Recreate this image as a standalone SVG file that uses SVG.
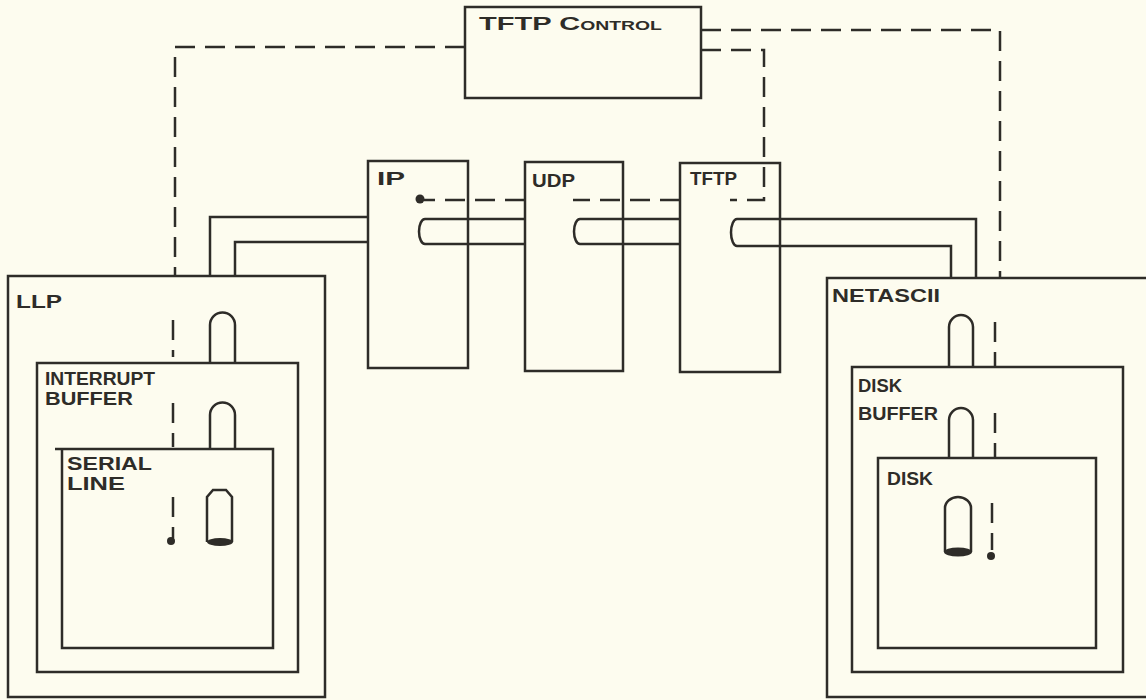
<svg xmlns="http://www.w3.org/2000/svg" width="1146" height="700" viewBox="0 0 1146 700">
<style>
.box{fill:none;stroke:#2e2c28;stroke-width:2.5}
.pipe{fill:none;stroke:#2e2c28;stroke-width:2.5;stroke-linejoin:miter}
.dash{fill:none;stroke:#2e2c28;stroke-width:2.5;stroke-dasharray:20 10}
.dot{fill:#2e2c28}
.lbl{font-family:"Liberation Sans",Arial,sans-serif;font-size:18px;fill:#2e2c28;font-weight:bold}
</style>
<rect width="1146" height="700" fill="#fdfcef"/>
<g id="connectors">
<path class="dash" d="M465,47 H175 V277"/>
<path class="dash" stroke-dasharray="16 8" d="M173,320 V357 M173,403 V447 M173,497 V538"/>
<circle class="dot" cx="171" cy="541" r="4"/>
<path class="dash" d="M701,30 H1000 V277"/>
<path class="dash" stroke-dasharray="16 8" d="M995,322 V367 M995,413 V457 M992,503 V550"/>
<circle class="dot" cx="991" cy="556" r="4"/>
<path class="dash" stroke-dasharray="16 8" d="M701,50 H764 V200 H730"/>
<path class="dash" stroke-dasharray="16 8" d="M680,200 H573"/>
<path class="dash" stroke-dasharray="16 8" d="M525,200 H424"/>
<circle class="dot" cx="420" cy="199" r="4.5"/>
<path class="pipe" d="M210,277 V217 H368 M235,277 V242 H368"/>
<path class="pipe" d="M525,219 H425 A6,12.5 0 0 0 425,244 H525"/>
<path class="pipe" d="M680,219 H580 A6,12.5 0 0 0 580,244 H680"/>
<path class="pipe" d="M976,278 V219 H737 A6,13.5 0 0 0 737,246 H951 V278"/>
</g>
<g id="tftp-control">
<rect class="box" x="465" y="7" width="236" height="91"/>
<text class="lbl" x="479" y="30" font-size="16.5" textLength="183" lengthAdjust="spacingAndGlyphs">TFTP C<tspan font-size="12">ONTROL</tspan></text>
</g>
<g id="ip">
<rect class="box" x="368" y="161" width="100" height="207"/>
<text class="lbl" x="377" y="185" font-size="24" textLength="28" lengthAdjust="spacingAndGlyphs">IP</text>
</g>
<g id="udp">
<rect class="box" x="525" y="162" width="98" height="209"/>
<text class="lbl" x="532" y="187" font-size="23" textLength="43" lengthAdjust="spacingAndGlyphs">UDP</text>
</g>
<g id="tftp">
<rect class="box" x="680" y="163" width="100" height="209"/>
<text class="lbl" x="690" y="185" font-size="22" textLength="47" lengthAdjust="spacingAndGlyphs">TFTP</text>
</g>
<g id="llp">
<rect class="box" x="8" y="276" width="317" height="421"/>
<text class="lbl" x="16" y="308" font-size="25" textLength="46" lengthAdjust="spacingAndGlyphs">LLP</text>
<path class="pipe" d="M210,363 V325 A12.5,12.5 0 0 1 235,325 V363"/>
</g>
<g id="interrupt-buffer">
<rect class="box" x="37" y="363" width="261" height="309"/>
<text class="lbl" x="45" y="385" textLength="110" lengthAdjust="spacingAndGlyphs">INTERRUPT</text>
<text class="lbl" x="45" y="405" textLength="88" lengthAdjust="spacingAndGlyphs">BUFFER</text>
<path class="pipe" d="M210,449 V415 A12.5,12.5 0 0 1 235,415 V449"/>
</g>
<g id="serial-line">
<path class="box" d="M55,449 H273 V648 H62 V449"/>
<text class="lbl" x="67" y="470" textLength="85" lengthAdjust="spacingAndGlyphs">SERIAL</text>
<text class="lbl" x="67" y="490" textLength="58" lengthAdjust="spacingAndGlyphs">LINE</text>
<path class="pipe" d="M207,542 V497 L213,490 H226 L232,497 V542"/>
<ellipse class="dot" cx="220" cy="542" rx="13" ry="4"/>
</g>
<g id="netascii">
<path class="box" d="M1150,278 H827 V697 H1150"/>
<text class="lbl" x="832" y="302" font-size="17" textLength="108" lengthAdjust="spacingAndGlyphs">NETASCII</text>
<path class="pipe" d="M949,367 V327 A12,12 0 0 1 973,327 V367"/>
</g>
<g id="disk-buffer">
<rect class="box" x="852" y="367" width="271" height="305"/>
<text class="lbl" x="858" y="392" font-size="19" textLength="44" lengthAdjust="spacingAndGlyphs">DISK</text>
<text class="lbl" x="858" y="420" textLength="80" lengthAdjust="spacingAndGlyphs">BUFFER</text>
<path class="pipe" d="M949,458 V420 A12,12 0 0 1 973,420 V458"/>
</g>
<g id="disk">
<rect class="box" x="878" y="458" width="218" height="190"/>
<text class="lbl" x="887" y="485" font-size="20" textLength="46" lengthAdjust="spacingAndGlyphs">DISK</text>
<path class="pipe" d="M945,552 V508 A13,11 0 0 1 971,508 V552"/>
<ellipse class="dot" cx="958" cy="552" rx="14" ry="4.5"/>
</g>
</svg>
